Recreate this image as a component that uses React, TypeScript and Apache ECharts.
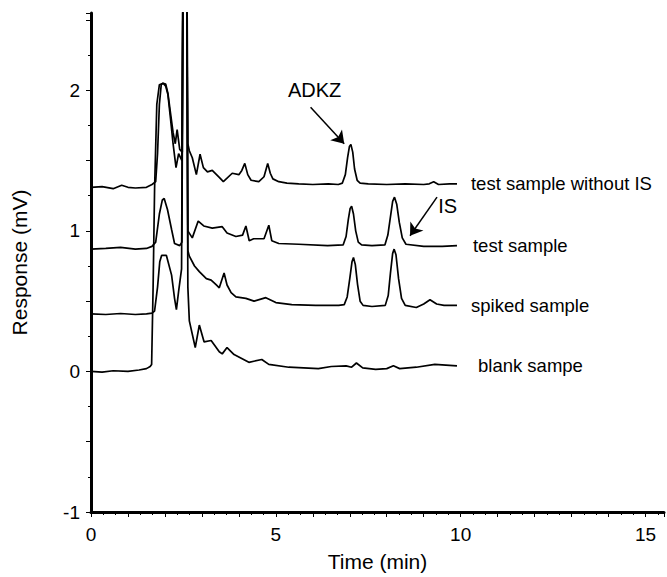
import React, { useEffect, useRef } from 'react';
import * as echarts from 'echarts';

const FONT = '"Liberation Sans", Arial, Helvetica, sans-serif';

const xTickLabels = [0, 5, 10, 15];
const yTickLabels = [-1, 0, 1, 2];

const traceNames = ['test sample without IS', 'test sample', 'spiked sample', 'blank sampe'];

const testSampleWithoutIS: [number, number][] = [
  [0, 1.31], [0.3, 1.315], [0.6, 1.3], [0.83, 1.325], [1.0, 1.31], [1.2, 1.305], [1.5, 1.31],
  [1.65, 1.33], [1.75, 1.35], [1.8, 1.55], [1.85, 1.9], [1.9, 2.04], [1.95, 2.05], [2.02, 2.045],
  [2.08, 1.98], [2.15, 1.84], [2.22, 1.7], [2.28, 1.62], [2.33, 1.72], [2.4, 1.58], [2.47, 1.56],
  [2.5, 3.6], [2.58, 3.6], [2.62, 1.62], [2.66, 1.57], [2.74, 1.52], [2.85, 1.4], [2.95, 1.545],
  [3.04, 1.45], [3.15, 1.42], [3.28, 1.43], [3.47, 1.38], [3.58, 1.35], [3.82, 1.41], [4.0, 1.4],
  [4.08, 1.43], [4.16, 1.48], [4.24, 1.4], [4.33, 1.36], [4.54, 1.35], [4.68, 1.385], [4.78, 1.48],
  [4.85, 1.41], [4.92, 1.37], [5.08, 1.35], [5.3, 1.34], [5.62, 1.335], [6.0, 1.33], [6.42, 1.335],
  [6.69, 1.33], [6.8, 1.34], [6.88, 1.4], [6.94, 1.52], [6.99, 1.6], [7.03, 1.615], [7.08, 1.56],
  [7.13, 1.44], [7.2, 1.36], [7.28, 1.34], [7.5, 1.335], [8.0, 1.33], [8.5, 1.335], [9.0, 1.33],
  [9.15, 1.335], [9.27, 1.35], [9.4, 1.33], [9.7, 1.335], [9.9, 1.335],
];

const testSample: [number, number][] = [
  [0, 0.87], [0.4, 0.875], [0.8, 0.882], [1.2, 0.87], [1.5, 0.875], [1.65, 0.89], [1.75, 0.92],
  [1.85, 1.12], [1.93, 1.22], [1.98, 1.23], [2.07, 1.15], [2.18, 1.01], [2.26, 0.91], [2.4, 0.895],
  [2.46, 0.92], [2.5, 3.6], [2.58, 3.6], [2.62, 1.0], [2.74, 0.95], [2.9, 1.07], [3.05, 1.035],
  [3.28, 1.02], [3.55, 1.03], [3.68, 0.985], [3.92, 0.96], [4.1, 0.97], [4.19, 1.035], [4.28, 0.93],
  [4.4, 0.944], [4.68, 0.944], [4.81, 1.04], [4.89, 0.93], [5.08, 0.91], [5.62, 0.905], [6.4, 0.895],
  [6.82, 0.9], [6.9, 0.96], [6.96, 1.08], [7.01, 1.16], [7.05, 1.175], [7.1, 1.12], [7.16, 1.0],
  [7.23, 0.92], [7.32, 0.9], [7.6, 0.895], [7.95, 0.9], [8.03, 0.97], [8.1, 1.1], [8.16, 1.21],
  [8.21, 1.24], [8.27, 1.19], [8.34, 1.06], [8.42, 0.95], [8.52, 0.905], [9.0, 0.89], [9.5, 0.89],
  [9.9, 0.895],
];

const spikedSample: [number, number][] = [
  [0, 0.41], [0.4, 0.405], [0.8, 0.412], [1.2, 0.405], [1.5, 0.41], [1.65, 0.415], [1.72, 0.43],
  [1.8, 0.6], [1.86, 0.78], [1.91, 0.825], [2.04, 0.825], [2.18, 0.685], [2.26, 0.52], [2.31, 0.44],
  [2.37, 0.57], [2.45, 0.73], [2.5, 3.6], [2.58, 3.6], [2.62, 0.86], [2.66, 0.82], [2.8, 0.75],
  [2.93, 0.71], [3.12, 0.66], [3.25, 0.65], [3.39, 0.615], [3.47, 0.595], [3.6, 0.7], [3.68, 0.615],
  [3.79, 0.56], [3.92, 0.53], [4.19, 0.52], [4.41, 0.5], [4.73, 0.525], [5.0, 0.49], [5.43, 0.475],
  [6.08, 0.47], [6.7, 0.47], [6.85, 0.475], [6.93, 0.53], [7.0, 0.66], [7.06, 0.78], [7.1, 0.81],
  [7.15, 0.76], [7.21, 0.62], [7.28, 0.5], [7.36, 0.47], [7.6, 0.462], [7.96, 0.47], [8.04, 0.54],
  [8.1, 0.7], [8.16, 0.84], [8.2, 0.87], [8.25, 0.83], [8.32, 0.66], [8.4, 0.52], [8.5, 0.47],
  [8.8, 0.455], [9.0, 0.48], [9.17, 0.51], [9.35, 0.48], [9.55, 0.47], [9.9, 0.47],
];

const blankSample: [number, number][] = [
  [0, 0.0], [0.3, -0.005], [0.6, 0.005], [1.0, 0.0], [1.3, 0.01], [1.5, 0.02], [1.6, 0.035],
  [1.64, 0.05], [1.68, 0.6], [1.72, 1.3], [1.78, 1.9], [1.85, 2.04], [1.95, 2.05], [2.02, 2.03],
  [2.08, 1.97], [2.15, 1.8], [2.22, 1.62], [2.3, 1.45], [2.37, 1.55], [2.46, 1.5], [2.5, 3.6],
  [2.58, 3.6], [2.62, 0.6], [2.66, 0.36], [2.82, 0.17], [2.93, 0.33], [3.06, 0.21], [3.25, 0.22],
  [3.47, 0.14], [3.55, 0.125], [3.68, 0.17], [3.87, 0.12], [4.27, 0.065], [4.62, 0.085], [4.81, 0.05],
  [5.35, 0.03], [6.15, 0.02], [6.5, 0.035], [6.9, 0.04], [7.05, 0.03], [7.18, 0.06], [7.35, 0.025],
  [7.7, 0.015], [8.0, 0.02], [8.18, 0.04], [8.35, 0.02], [8.8, 0.03], [9.3, 0.05], [9.6, 0.045],
  [9.9, 0.04],
];

const traces = [testSampleWithoutIS, testSample, spikedSample, blankSample];
const endLabelGap = [14, 16, 14, 21];

const peakLabels = [
  { name: 'ADKZ', value: [6.05, 2.0] },
  { name: 'IS', value: [9.65, 1.175] },
];
const arrows: [number, number][][] = [
  [[5.94, 1.88], [6.85, 1.62]],
  [[9.36, 1.24], [8.63, 0.965]],
];

export default function App() {
  const ref = useRef<HTMLDivElement>(null);
  useEffect(() => {
    if (!ref.current) return;
    const chart = echarts.init(ref.current, undefined, { renderer: 'svg' });
    const lineSeries = traces.map((d, i) => ({
      type: 'line',
      name: traceNames[i],
      data: d,
      showSymbol: false,
      symbol: 'none',
      clip: true,
      lineStyle: { color: '#000', width: 1.7 },
      endLabel: {
        show: true,
        formatter: '{a}',
        distance: endLabelGap[i],
        color: '#000',
        fontFamily: FONT,
        fontSize: 18.5,
      },
      z: 3,
    }));
    chart.setOption({
      animation: false,
      backgroundColor: '#fff',
      grid: { left: 91, right: 0, top: 13, bottom: 60, containLabel: false },
      xAxis: {
        type: 'value',
        min: 0,
        max: 15.5,
        interval: 1,
        name: 'Time (min)',
        nameLocation: 'middle',
        nameGap: 39,
        nameTextStyle: { color: '#000', fontFamily: FONT, fontSize: 21 },
        axisLine: { onZero: false, lineStyle: { color: '#000', width: 3 } },
        axisTick: { show: true, length: 5, lineStyle: { color: '#000', width: 1 } },
        minorTick: { show: true, splitNumber: 3, length: 3, lineStyle: { color: '#000', width: 1 } },
        splitLine: { show: false },
        axisLabel: {
          color: '#000',
          fontFamily: FONT,
          fontSize: 19,
          margin: 13,
          formatter: (v: number) => (xTickLabels.includes(v) ? String(v) : ''),
        },
      },
      yAxis: {
        type: 'value',
        min: -1,
        max: 2.55,
        interval: 0.5,
        name: 'Response (mV)',
        nameLocation: 'middle',
        nameGap: 61,
        nameTextStyle: { color: '#000', fontFamily: FONT, fontSize: 21 },
        axisLine: { onZero: false, lineStyle: { color: '#000', width: 3 } },
        axisTick: { show: true, length: 5, lineStyle: { color: '#000', width: 1 } },
        minorTick: { show: true, splitNumber: 2, length: 3, lineStyle: { color: '#000', width: 1 } },
        splitLine: { show: false },
        axisLabel: {
          color: '#000',
          fontFamily: FONT,
          fontSize: 19,
          margin: 11,
          formatter: (v: number) => (yTickLabels.includes(v) ? String(v) : ''),
        },
      },
      series: [
        ...lineSeries,
        {
          type: 'scatter',
          name: 'annotations',
          symbolSize: 0,
          itemStyle: { opacity: 1 },
          data: peakLabels,
          label: {
            show: true,
            position: 'inside',
            formatter: '{b}',
            color: '#000',
            opacity: 1,
            textBorderWidth: 0,
            fontFamily: FONT,
            fontSize: 20,
          },
          markLine: {
            silent: true,
            symbol: ['none', 'arrow'],
            symbolSize: 12,
            label: { show: false },
            lineStyle: { color: '#000', width: 1.5, type: 'solid', opacity: 1 },
            data: arrows.map((a) => [{ coord: a[0] }, { coord: a[1] }]),
          },
          z: 4,
        },
      ],
    });
    return () => chart.dispose();
  }, []);
  return (
    <div
      ref={ref}
      style={{ position: 'fixed', left: 0, top: 0, width: 667, height: 577, background: '#fff' }}
    />
  );
}
